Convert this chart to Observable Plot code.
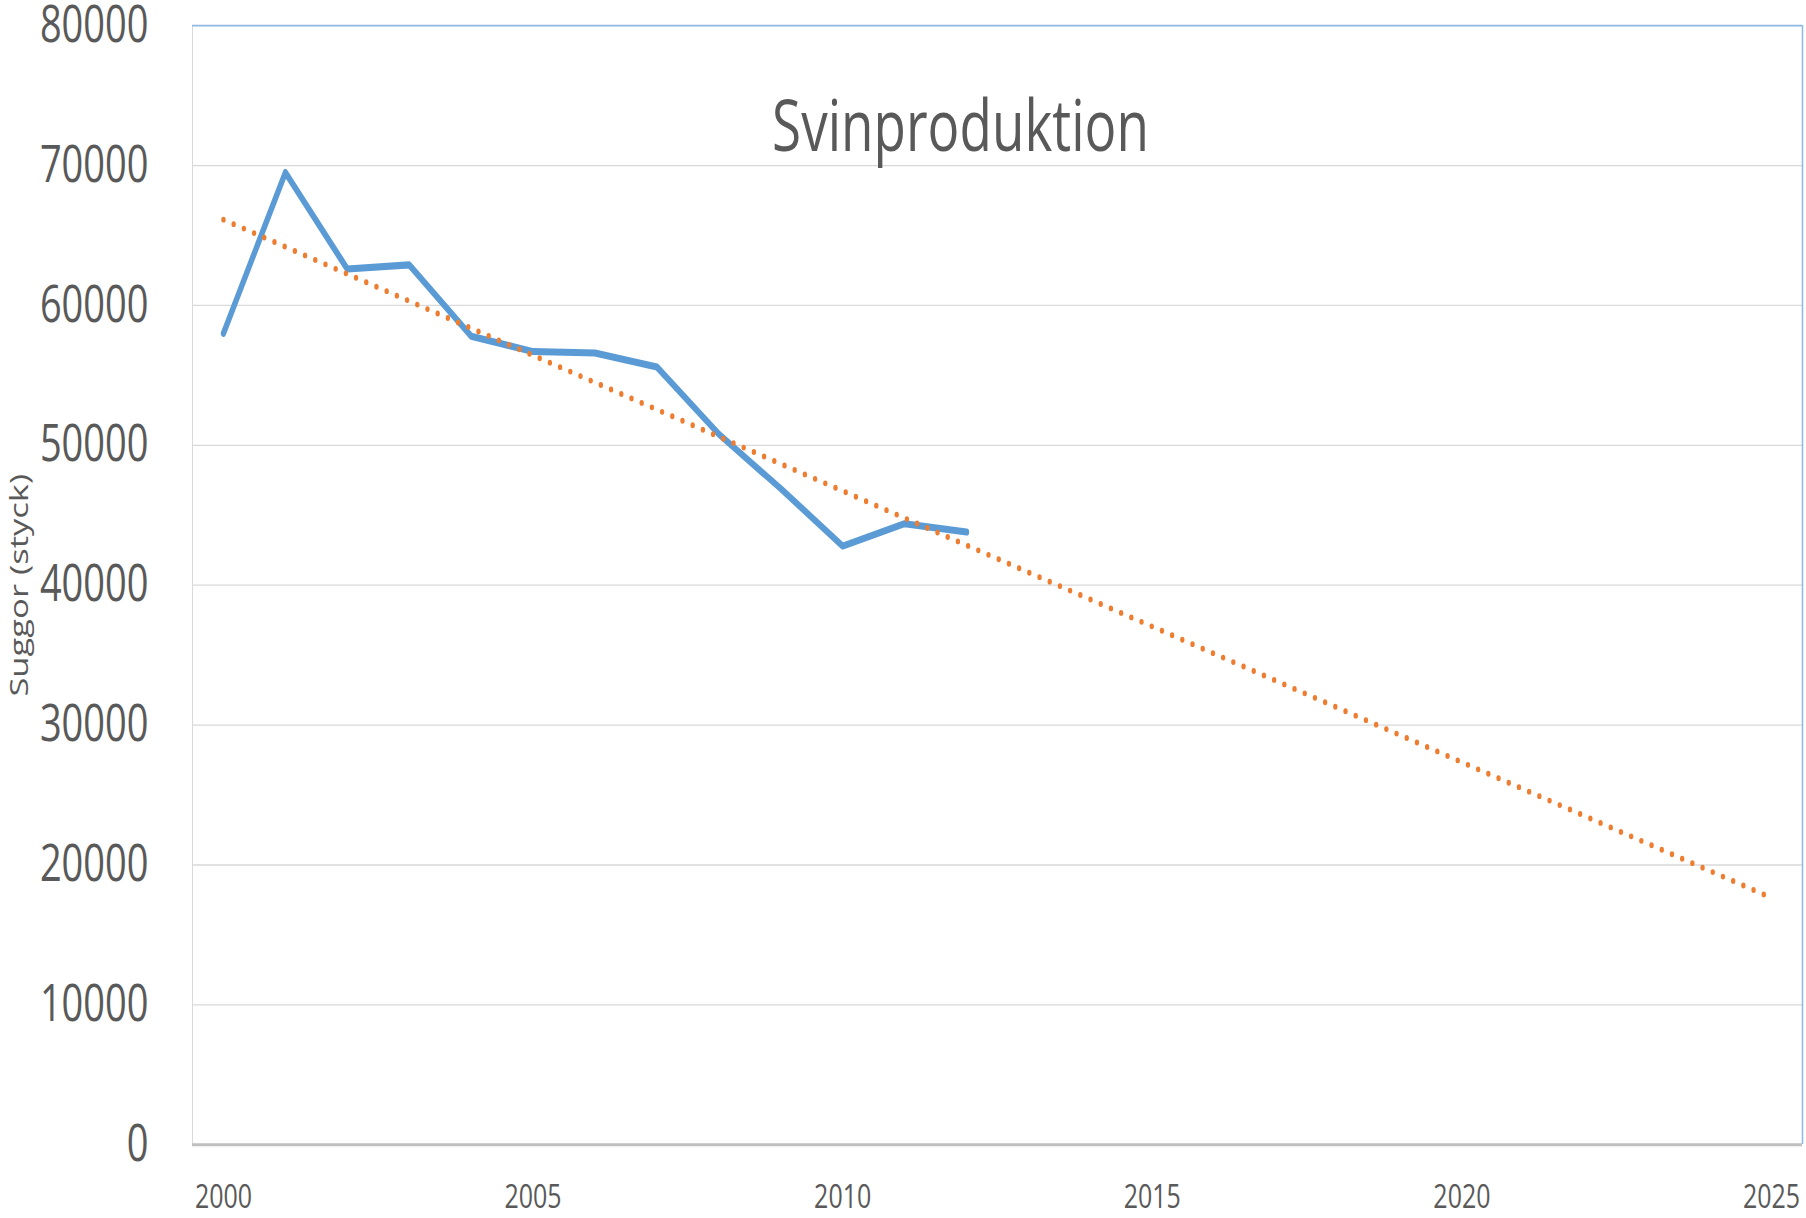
<!DOCTYPE html>
<html>
<head>
<meta charset="utf-8">
<script src="https://cdn.jsdelivr.net/npm/d3@7"></script>
<script src="https://cdn.jsdelivr.net/npm/@observablehq/plot@0.6"></script>
<style>
  html, body { margin: 0; padding: 0; background: #ffffff; }
  #chart { width: 1806px; height: 1218px; overflow: hidden; }
</style>
</head>
<body>
<div id="chart"></div>
<script>
// ---- data ----
const years = [2000, 2001, 2002, 2003, 2004, 2005, 2006, 2007, 2008, 2009, 2010, 2011, 2012];
const sows = [58000, 69500, 62600, 62900, 57800, 56700, 56600, 55600, 50800, 46900, 42800, 44400, 43800];
const trendYears = [2000, 2025];
const trendValues = [66130, 17650];
const yTicks = [0, 10000, 20000, 30000, 40000, 50000, 60000, 70000, 80000];
const gridValues = [10000, 20000, 30000, 40000, 50000, 60000, 70000];
const xTicks = [2000, 2005, 2010, 2015, 2020, 2025];
const xDomain = [1999.5, 2025.5];
const yDomain = [0, 80000];
const title = "Svinproduktion";
const yLabel = "Suggor (styck)";

const series = years.map((y, i) => ({year: y, value: sows[i]}));
const trend = trendYears.map((y, i) => ({year: y, value: trendValues[i]}));

// layout is drawn in an internal height, then stretched vertically like the reference
const W = 1806, H = 1218, S = 1.3297;
const IH = H / S;
const gray = "#595959";

const svg = Plot.plot({
  width: W,
  height: IH,
  marginLeft: 192,
  marginRight: 4,
  marginTop: 18.8,
  marginBottom: IH - 860.4,
  style: {fontFamily: "'Open Sans', 'Noto Sans', sans-serif", background: "#ffffff", color: gray, overflow: "visible"},
  x: {domain: xDomain, label: null},
  y: {domain: yDomain, label: null},
  marks: [
    Plot.ruleY(gridValues, {stroke: "#d9d9d9", strokeWidth: 1}),
    Plot.ruleX([xDomain[0]], {stroke: "#d9d9d9", strokeWidth: 1}),
    Plot.ruleY([yDomain[1]], {stroke: "#8fb8e2", strokeWidth: 1.2}),
    Plot.ruleX([xDomain[1]], {stroke: "#8fb8e2", strokeWidth: 1.5}),
    Plot.ruleY([yDomain[0]], {stroke: "#bfbfbf", strokeWidth: 2.4}),
    Plot.axisY({ticks: yTicks, tickFormat: d => String(d), tickSize: 0, tickPadding: 44, fontSize: 38, fill: gray, label: null}),
    Plot.axisX({ticks: xTicks, tickFormat: d => String(d), tickSize: 0, tickPadding: 30, fontSize: 25, fill: gray, label: null}),
    Plot.line(series, {x: "year", y: "value", stroke: "#5b9bd5", strokeWidth: 5.3, strokeLinejoin: "round", strokeLinecap: "round"}),
    Plot.line(trend, {x: "year", y: "value", stroke: "#ed7d31", strokeWidth: 4.4, strokeDasharray: "0 10.74", strokeLinecap: "round"}),
    Plot.text([title], {text: d => d, frameAnchor: "top", lineAnchor: "top", dy: 56.4, dx: -37, fontSize: 53, fill: gray}),
    Plot.text([yLabel], {text: d => d, frameAnchor: "left", textAnchor: "middle", rotate: -90, lineAnchor: "top", dx: -183, fontSize: 26, fill: gray})
  ]
});

svg.setAttribute("viewBox", `0 0 ${W} ${IH}`);
svg.setAttribute("width", W);
svg.setAttribute("height", H);
svg.setAttribute("preserveAspectRatio", "none");
svg.style.width = W + "px";
svg.style.height = H + "px";
svg.style.maxWidth = "none";
document.getElementById("chart").appendChild(svg);
</script>
</body>
</html>
